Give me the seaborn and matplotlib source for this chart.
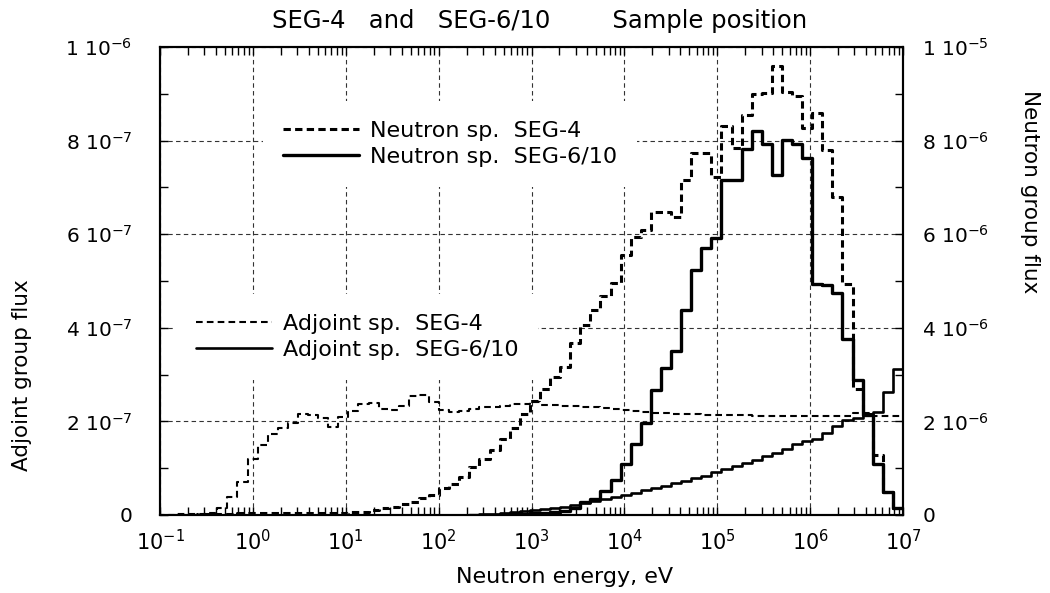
import numpy as np
import pandas as pd
import seaborn as sns
import matplotlib.pyplot as plt
from matplotlib.ticker import MultipleLocator, LogLocator, NullFormatter

# group structure: equal lethargy steps of 0.25 going down from 10 MeV
# (index 0 is the highest energy group)
e_top = 1.0e7
du = 0.25

# adjoint group flux, units of 1e-7 (left axis), from 10 MeV downwards
adj_seg4 = [2.11, 2.11, 2.12, 2.17, 2.17, 2.12, 2.11, 2.11, 2.11, 2.11,
            2.12, 2.12, 2.12, 2.12, 2.12, 2.13, 2.13, 2.13, 2.14, 2.14,
            2.15, 2.15, 2.16, 2.17, 2.19, 2.21, 2.23, 2.25, 2.27, 2.29,
            2.30, 2.31, 2.32, 2.33, 2.34, 2.36, 2.41, 2.37, 2.37, 2.33,
            2.31, 2.30, 2.26, 2.23, 2.20, 2.24, 2.41, 2.56, 2.54, 2.33,
            2.25, 2.26, 2.39, 2.37, 2.22, 2.10, 1.87, 2.07, 2.14, 2.15,
            1.96, 1.85, 1.73, 1.50, 1.19, 0.70, 0.38, 0.16, 0.05, 0.03,
            0.02, 0.02, 0.01, 0.01]
adj_seg610 = [3.13, 2.63, 2.21, 2.16, 2.08, 2.02, 1.90, 1.76, 1.62, 1.58,
              1.52, 1.41, 1.33, 1.27, 1.17, 1.11, 1.05, 0.98, 0.92, 0.83,
              0.78, 0.73, 0.68, 0.63, 0.58, 0.53, 0.48, 0.43, 0.39, 0.34,
              0.30, 0.26, 0.22, 0.18, 0.15, 0.12, 0.10, 0.08, 0.06, 0.04,
              0.03, 0.02, 0.01]

# neutron group flux, units of 1e-6 (right axis), from 10 MeV downwards
neu_seg4 = [0.14, 0.50, 1.28, 2.15, 2.69, 4.93, 6.80, 7.80, 8.60, 8.26,
            8.95, 9.03, 9.59, 9.02, 8.99, 8.55, 7.84, 8.31, 7.23, 7.73,
            7.74, 7.16, 6.37, 6.47, 6.47, 6.10, 5.95, 5.56, 4.96, 4.69,
            4.37, 4.06, 3.67, 3.17, 2.94, 2.69, 2.44, 2.15, 1.85, 1.62,
            1.39, 1.19, 1.02, 0.82, 0.66, 0.57, 0.43, 0.36, 0.28, 0.235,
            0.18, 0.14, 0.11, 0.07, 0.06, 0.05, 0.05, 0.05, 0.04, 0.04,
            0.04, 0.04, 0.04, 0.04, 0.04, 0.04, 0.03, 0.03, 0.02, 0.02,
            0.01, 0.01, 0.01, 0.01]
neu_seg610 = [0.14, 0.50, 1.10, 2.14, 2.88, 3.77, 4.75, 4.91, 4.93, 7.62,
              7.92, 8.01, 7.26, 7.93, 8.21, 7.82, 7.16, 7.16, 5.91, 5.70,
              5.23, 4.38, 3.50, 3.15, 2.67, 1.97, 1.52, 1.09, 0.75, 0.51,
              0.34, 0.27, 0.14, 0.09, 0.06, 0.045, 0.035, 0.025, 0.02, 0.015,
              0.01, 0.005, 0.0]

x_ticks = [1e-1, 1e0, 1e1, 1e2, 1e3, 1e4, 1e5, 1e6, 1e7]
x_labels = [r'$\mathregular{10^{-1}}$', r'$\mathregular{10^{0}}$', r'$\mathregular{10^{1}}$',
            r'$\mathregular{10^{2}}$', r'$\mathregular{10^{3}}$', r'$\mathregular{10^{4}}$',
            r'$\mathregular{10^{5}}$', r'$\mathregular{10^{6}}$', r'$\mathregular{10^{7}}$']
y_left_ticks = [0, 2e-7, 4e-7, 6e-7, 8e-7, 1e-6]
y_left_labels = ['0', r'$\mathregular{2\ 10^{-7}}$', r'$\mathregular{4\ 10^{-7}}$',
                 r'$\mathregular{6\ 10^{-7}}$', r'$\mathregular{8\ 10^{-7}}$',
                 r'$\mathregular{1\ 10^{-6}}$']
y_right_ticks = [0, 2e-6, 4e-6, 6e-6, 8e-6, 1e-5]
y_right_labels = ['0', r'$\mathregular{2\ 10^{-6}}$', r'$\mathregular{4\ 10^{-6}}$',
                  r'$\mathregular{6\ 10^{-6}}$', r'$\mathregular{8\ 10^{-6}}$',
                  r'$\mathregular{1\ 10^{-5}}$']


def escalones(valores, escala):
    """Group values -> points for a steps-post line (lower edges + top edge)."""
    k = np.arange(len(valores))
    e_low = e_top * np.exp(-du * (k + 1))
    x = np.append(e_low, e_top)
    y = np.append(np.array(valores), valores[0]) * escala
    return pd.DataFrame({'E': x, 'flux': y})


sns.set_theme(style="ticks")
plt.rcParams['font.family'] = ['DejaVu Sans']
plt.rcParams['mathtext.fontset'] = 'dejavusans'
plt.rcParams['text.color'] = 'black'
plt.rcParams['axes.labelcolor'] = 'black'

fig = plt.figure(figsize=(10.5, 5.93), dpi=100)
ax = fig.add_axes([160 / 1050, 1 - 515 / 593, 743 / 1050, 468 / 593])
ax2 = ax.twinx()

# adjoint spectra on the left axis
sns.lineplot(data=escalones(adj_seg4, 1e-7), x='E', y='flux', ax=ax,
             estimator=None, drawstyle='steps-post', color='black',
             linewidth=1.5, linestyle=(0, (3.2, 2.0)), label='Adjoint sp.  SEG-4')
sns.lineplot(data=escalones(adj_seg610, 1e-7), x='E', y='flux', ax=ax,
             estimator=None, drawstyle='steps-post', color='black',
             linewidth=1.9, label='Adjoint sp.  SEG-6/10')

# neutron spectra on the right axis
sns.lineplot(data=escalones(neu_seg4, 1e-6), x='E', y='flux', ax=ax2,
             estimator=None, drawstyle='steps-post', color='black',
             linewidth=2.2, linestyle=(0, (2.4, 1.4)), label='Neutron sp.  SEG-4')
sns.lineplot(data=escalones(neu_seg610, 1e-6), x='E', y='flux', ax=ax2,
             estimator=None, drawstyle='steps-post', color='black',
             linewidth=2.4, label='Neutron sp.  SEG-6/10')

ax.set_xscale('log')
ax.set_xlim(1e-1, 1e7)
ax.set_ylim(0, 1e-6)
ax2.set_ylim(0, 1e-5)

ax.set_xticks(x_ticks)
ax.set_xticklabels(x_labels)
ax.xaxis.set_minor_locator(LogLocator(base=10, subs=np.arange(2, 10), numticks=20))
ax.xaxis.set_minor_formatter(NullFormatter())
ax.set_yticks(y_left_ticks)
ax.set_yticklabels(y_left_labels)
ax.yaxis.set_minor_locator(MultipleLocator(1e-7))
ax2.set_yticks(y_right_ticks)
ax2.set_yticklabels(y_right_labels)
ax2.yaxis.set_minor_locator(MultipleLocator(1e-6))

ax.grid(True, which='major', linestyle=(0, (4, 3)), linewidth=0.8, color='#333333')
ax2.grid(False)

ax.tick_params(which='both', direction='in', top=True, right=False, width=1, colors='black')
ax.tick_params(which='major', length=6)
ax.tick_params(which='minor', length=5.5)
ax.tick_params(axis='x', which='major', labelsize=15, pad=10)
ax.tick_params(axis='y', which='major', labelsize=14.5, pad=20)
ax2.tick_params(which='both', direction='in', width=1, colors='black')
ax2.tick_params(which='major', length=6, labelsize=14.5, pad=14)
ax2.tick_params(which='minor', length=5.5)

for a in (ax, ax2):
    for s in a.spines.values():
        s.set_linewidth(1.5)
        s.set_color('black')

ax.set_xlabel('Neutron energy, eV', fontsize=16, va='center')
ax.xaxis.set_label_coords((565 - 160) / 743, (515 - 577) / 468)
ax.set_ylabel('Adjoint group flux', fontsize=15.5, va='center')
ax.yaxis.set_label_coords((22 - 160) / 743, (515 - 375) / 468)
ax2.set_ylabel('Neutron group flux', fontsize=15.5, rotation=270, va='center')
ax2.yaxis.set_label_coords((1030 - 160) / 743, (515 - 192) / 468)

fig.text(272 / 1050, 1 - 21 / 593,
         'SEG-4   and   SEG-6/10        Sample position',
         fontsize=17.5, ha='left', va='center')

leg_kw = dict(frameon=True, facecolor='white', edgecolor='none', framealpha=1,
              fontsize=16, handlelength=3.4, handletextpad=0.5, labelspacing=0.25,
              borderpad=0.9, borderaxespad=0, fancybox=False, loc='upper left')
ax2.legend(handles=ax2.lines, **leg_kw,
           bbox_to_anchor=((263 - 160) / 743, (515 - 101) / 468))
ax.legend(handles=ax.lines, **leg_kw,
          bbox_to_anchor=((176 - 160) / 743, (515 - 294) / 468))

fig.savefig('out.png', dpi=100)
